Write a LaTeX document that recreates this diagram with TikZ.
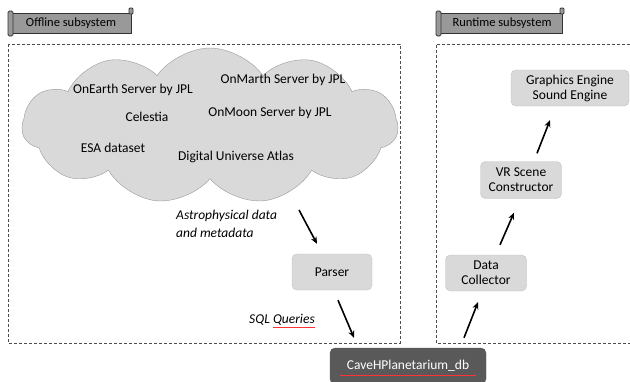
\documentclass[tikz,border=0pt]{standalone}
\usepackage{fontspec}
\setmainfont{Carlito}
\usetikzlibrary{shapes.symbols,arrows.meta}
\definecolor{boxfill}{HTML}{D9D9D9}
\definecolor{boxline}{HTML}{BFBFBF}
\definecolor{dbfill}{HTML}{595959}
\definecolor{bannerfill}{HTML}{999999}
\begin{document}
\begin{tikzpicture}[x=1pt,y=-1pt,font=\fontsize{13.5}{15}\selectfont,
	blk/.style={draw=boxline,fill=boxfill,rounded corners=5pt,align=center,inner sep=0pt},
	arr/.style={-{Stealth[length=7pt,width=6pt]},line width=1.6pt},
	region/.style={draw=black!70,dash pattern=on 3pt off 2pt,line width=0.8pt},
	banner/.style={draw=black!80,fill=bannerfill,line width=0.8pt},
	bannertext/.style={font=\fontsize{12.5}{14}\selectfont}]
	\useasboundingbox (0,0) rectangle (630,381);
	\draw[region] (8,44) rectangle (400,343);
	\draw[region] (630,44) -- (436,44) -- (436,343) -- (630,343);
	\draw[banner] (12,13) rectangle (131,33);
	\draw[banner,rounded corners=1.5pt] (8,11) rectangle (13,36);
	\draw[banner,rounded corners=1pt] (129,8) rectangle (133,14);
	\node[bannertext] (offline) at (71,23) {Offline subsystem};
	\draw[banner] (440,13) rectangle (562,33);
	\draw[banner,rounded corners=1.5pt] (436,11) rectangle (441,36);
	\draw[banner,rounded corners=1pt] (560,8) rectangle (564,14);
	\node[bannertext] (runtime) at (502,23) {Runtime subsystem};
	\node[cloud,cloud puffs=11,cloud puff arc=110,cloud ignores aspect,draw=black!40,fill=boxfill,
		minimum width=376pt,minimum height=156pt,inner sep=0pt] (cloud) at (210,126) {};
	\node (onearth) at (133,90) {OnEarth Server by JPL};
	\node (onmarth) at (283,80) {OnMarth Server by JPL};
	\node (celestia) at (147,117) {Celestia};
	\node (onmoon) at (270,113) {OnMoon Server by JPL};
	\node (esa) at (113,148) {ESA dataset};
	\node (dua) at (236,157) {Digital Universe Atlas};
	\node[align=left,anchor=north west,inner sep=0pt,font=\fontsize{13.5}{18}\itshape] (astro) at (176,210) {Astrophysical data\\and metadata};
	\node[blk,minimum width=80pt,minimum height=36pt] (parser) at (332,272) {Parser};
	\node[inner sep=0pt,font=\fontsize{13.5}{15}\itshape] (sql) at (282,320) {SQL Queries};
	\draw[red!80,line width=0.3pt] ([xshift=-42pt,yshift=-1.5pt]sql.south east) -- ([yshift=-1.5pt]sql.south east);
	\node[draw=dbfill,fill=dbfill,rounded corners=5pt,minimum width=156pt,minimum height=36pt,text=white] (db) at (408,366) {CaveHPlanetarium\_db};
	\draw[red!80,line width=0.3pt] ([xshift=-68pt,yshift=-9pt]db.center) -- ([xshift=68pt,yshift=-9pt]db.center);
	\node[blk,minimum width=81pt,minimum height=36pt] (collector) at (486,273) {Data\\Collector};
	\node[blk,minimum width=81pt,minimum height=37pt] (scene) at (521,180) {VR Scene\\Constructor};
	\node[blk,minimum width=118pt,minimum height=36pt] (engine) at (570,88) {Graphics Engine\\Sound Engine};
	\draw[arr] ([xshift=89pt,yshift=-84pt]cloud.center) -- ([xshift=-15pt,yshift=10pt]parser.north);
	\draw[arr] ([xshift=6pt,yshift=-10pt]parser.south) -- ([xshift=-54pt,yshift=10pt]db.north);
	\draw[arr] ([xshift=56pt,yshift=10pt]db.north) -- ([xshift=-8pt,yshift=-11pt]collector.south);
	\draw[arr] ([xshift=14pt,yshift=10pt]collector.north) -- ([xshift=-7pt,yshift=-14pt]scene.south);
	\draw[arr] ([xshift=16pt,yshift=8pt]scene.north) -- ([xshift=-20pt,yshift=-14pt]engine.south);
\end{tikzpicture}
\end{document}
